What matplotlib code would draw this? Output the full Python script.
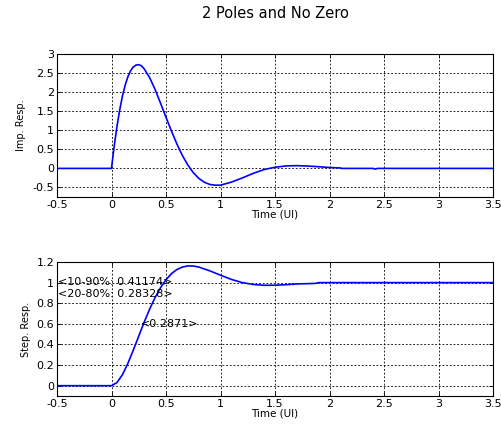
import matplotlib
matplotlib.use("Agg")
import matplotlib.pyplot as plt

plt.rcParams['font.family'] = ['DejaVu Sans']

# Impulse response
t_imp = [-0.5, 0.0, 0.02, 0.05, 0.075, 0.10, 0.125, 0.15, 0.175, 0.20, 0.225, 0.25,
         0.275, 0.30, 0.35, 0.40, 0.45,
         0.50, 0.55, 0.60, 0.65, 0.70, 0.75, 0.80, 0.85, 0.90, 0.95, 1.00, 1.10,
         1.20, 1.30, 1.40, 1.50, 1.60, 1.70, 1.80, 1.90, 2.00, 2.10, 2.11, 2.40,
         2.42, 2.44, 3.5]
h_imp = [0.0, 0.0, 0.48, 1.10, 1.53, 1.89, 2.18, 2.40, 2.56, 2.66, 2.71, 2.72,
         2.69, 2.61, 2.38, 2.07, 1.71,
         1.34, 0.98, 0.64, 0.34, 0.09, -0.11, -0.26, -0.36, -0.42, -0.44, -0.44, -0.36,
         -0.25, -0.13, -0.03, 0.03, 0.065, 0.072, 0.062, 0.044, 0.024, 0.012, 0.0, 0.0,
         -0.02, 0.0, 0.0]

# Step response
t_step = [-0.5, 0.0, 0.05, 0.10, 0.15, 0.20, 0.25, 0.30, 0.35, 0.40, 0.45, 0.50,
          0.55, 0.60, 0.65, 0.70, 0.75, 0.80, 0.90, 1.00, 1.10, 1.20, 1.30, 1.40,
          1.50, 1.60, 1.70, 1.80, 1.87, 1.90, 3.5]
s_step = [0.0, 0.0, 0.03, 0.106, 0.216, 0.345, 0.481, 0.617, 0.743, 0.856, 0.951, 1.028,
          1.087, 1.127, 1.151, 1.162, 1.161, 1.151, 1.115, 1.072, 1.031, 1.0, 0.982, 0.974,
          0.975, 0.98, 0.987, 0.99, 0.992, 1.0, 1.0]

annot_texts = ["<10-90%: 0.41174>", "<20-80%: 0.28328>", "<0.2871>"]
annot_x = [-0.49, -0.49, 0.27]
annot_y = [1.004, 0.89, 0.596]

fig = plt.figure(figsize=(5.01, 4.25), dpi=100)
W, H = 501, 425
ax1 = fig.add_axes([57 / W, 1 - 197 / H, 436 / W, 143 / H])
ax2 = fig.add_axes([57 / W, 1 - 396 / H, 436 / W, 134 / H])

blue = '#0000ff'
grid_kw = dict(color='black', linestyle=(0, (2.2, 2.2)), linewidth=0.6)

ax1.plot(t_imp, h_imp, color=blue, linewidth=1.2)
ax1.set_xlim(-0.5, 3.5)
ax1.set_ylim(-0.75, 3)
ax1.set_yticks([-0.5, 0, 0.5, 1, 1.5, 2, 2.5, 3])
ax1.set_yticklabels(['-0.5', '0', '0.5', '1', '1.5', '2', '2.5', '3'])
ax1.set_ylabel('Imp. Resp.', fontsize=7, labelpad=5)

ax2.plot(t_step, s_step, color=blue, linewidth=1.2)
ax2.set_xlim(-0.5, 3.5)
ax2.set_ylim(-0.1, 1.2)
ax2.set_yticks([0, 0.2, 0.4, 0.6, 0.8, 1, 1.2])
ax2.set_yticklabels(['0', '0.2', '0.4', '0.6', '0.8', '1', '1.2'])
ax2.set_ylabel('Step. Resp.', fontsize=7, labelpad=4)
for s, x, y in zip(annot_texts, annot_x, annot_y):
    ax2.text(x, y, s, fontsize=8, va='center', ha='left', color='black')

xt = [-0.5, 0, 0.5, 1, 1.5, 2, 2.5, 3, 3.5]
for ax in (ax1, ax2):
    ax.set_xticks(xt)
    ax.set_xticklabels(['-0.5', '0', '0.5', '1', '1.5', '2', '2.5', '3', '3.5'])
    ax.grid(True, **grid_kw)
    ax.tick_params(direction='in', labelsize=8, length=3, width=0.6, pad=2,
                   top=True, right=True)
    for sp in ax.spines.values():
        sp.set_linewidth(0.8)
    ax.set_xlabel('Time (UI)', fontsize=7.5, labelpad=0)

fig.text(275 / W, 1 - 14 / H, '2 Poles and No Zero', fontsize=10.5,
         ha='center', va='center')

fig.savefig('out.png', dpi=100)
